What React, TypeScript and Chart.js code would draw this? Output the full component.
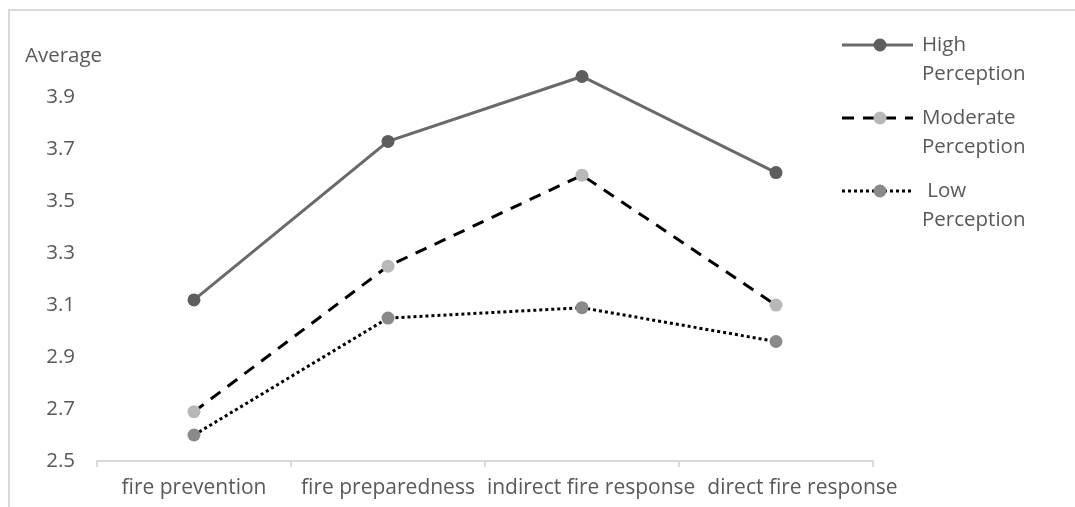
import React, { useEffect, useRef } from "react";
import { Chart, registerables } from "chart.js";

Chart.register(...registerables);

const categories = ["fire prevention", "fire preparedness", "indirect fire response", "direct fire response"];
const highPerception = [3.12, 3.73, 3.98, 3.61];
const moderatePerception = [2.69, 3.25, 3.6, 3.1];
const lowPerception = [2.6, 3.05, 3.09, 2.96];
const seriesLabels = [
  ["High", "Perception"],
  ["Moderate", "Perception"],
  [" Low", "Perception"],
];
const yMin = 2.5;
const yMax = 4.1;
const yStep = 0.2;
const yAxisTitle = "Average";

const FONT = "'Open Sans', Lato, sans-serif";
const FONT_SIZE = 20.5;
const X_FONT_SIZE = 21;
const TEXT = "#595959";
const AXIS = "#d9d9d9";

const extrasPlugin = {
  id: "extras",
  afterDraw(chart: any) {
    const ctx = chart.ctx;
    const area = chart.chartArea;
    ctx.save();
    ctx.font = `${FONT_SIZE}px ${FONT}`;
    ctx.fillStyle = TEXT;
    ctx.textBaseline = "middle";
    ctx.textAlign = "left";
    // axis title in place of the top tick
    ctx.fillText(yAxisTitle, 15, area.top + 11);

    // category labels, pushed right when they would overlap (as the original does)
    const xs = chart.scales.x;
    ctx.font = `${X_FONT_SIZE}px ${FONT}`;
    let prevRight = -Infinity;
    categories.forEach((c, i) => {
      const w = ctx.measureText(c).width;
      let left = xs.getPixelForValue(i) - w / 2;
      if (left < prevRight + 12) left = prevRight + 12;
      ctx.fillText(c, left, xs.top + 27);
      prevRight = left + w;
    });

    // custom legend
    ctx.font = `${FONT_SIZE}px ${FONT}`;
    chart.data.datasets.forEach((ds: any, i: number) => {
      const y = 34 + i * 73;
      const x0 = area.right - 31;
      const x1 = area.right + 40;
      const mx = area.right + 7;
      ctx.save();
      ctx.strokeStyle = ds.borderColor;
      ctx.lineWidth = ds.borderWidth;
      ctx.setLineDash(ds.borderDash || []);
      ctx.beginPath();
      ctx.moveTo(x0, y);
      ctx.lineTo(x1, y);
      ctx.stroke();
      ctx.setLineDash([]);
      ctx.fillStyle = ds.pointBackgroundColor;
      ctx.beginPath();
      ctx.arc(mx, y, ds.pointRadius, 0, Math.PI * 2);
      ctx.fill();
      ctx.restore();
      ctx.fillStyle = TEXT;
      const lines = seriesLabels[i];
      lines.forEach((t, j) => {
        ctx.fillText(t, area.right + 49, y + j * 29.5);
      });
    });
    ctx.restore();
  },
};

export default function App() {
  const canvasRef = useRef<HTMLCanvasElement | null>(null);

  useEffect(() => {
    if (!canvasRef.current) return;
    const chart = new Chart(canvasRef.current, {
      type: "line",
      data: {
        labels: categories,
        datasets: [
          {
            label: seriesLabels[0].join(" "),
            data: highPerception,
            borderColor: "#6a6a6a",
            borderWidth: 3,
            pointBackgroundColor: "#5e5e5e",
            pointBorderWidth: 0,
            pointRadius: 6.5,
            borderDash: [],
          },
          {
            label: seriesLabels[1].join(" "),
            data: moderatePerception,
            borderColor: "#000000",
            borderWidth: 3,
            borderDash: [12, 9],
            pointBackgroundColor: "#b8b8b8",
            pointBorderWidth: 0,
            pointRadius: 6.5,
          },
          {
            label: seriesLabels[2].join(" "),
            data: lowPerception,
            borderColor: "#000000",
            borderWidth: 3,
            borderDash: [3, 3],
            pointBackgroundColor: "#8a8a8a",
            pointBorderWidth: 0,
            pointRadius: 6.5,
          },
        ],
      },
      options: {
        animation: false,
        responsive: true,
        maintainAspectRatio: false,
        devicePixelRatio: 1,
        layout: { padding: { top: 34, right: 202, left: 0, bottom: 0 } },
        plugins: {
          legend: { display: false },
          tooltip: { enabled: false },
        },
        scales: {
          x: {
            offset: true,
            afterFit: (scale: any) => {
              scale.height = 46;
            },
            grid: {
              offset: true,
              drawOnChartArea: false,
              drawTicks: true,
              tickLength: 6,
              color: AXIS,
              lineWidth: 2,
            },
            border: { display: true, color: AXIS, width: 2 },
            ticks: { display: false, autoSkip: false },
          },
          y: {
            min: yMin,
            max: yMax,
            afterFit: (scale: any) => {
              scale.width = 87;
            },
            grid: { display: false, drawTicks: false },
            border: { display: false },
            ticks: {
              stepSize: yStep,
              color: TEXT,
              font: { family: FONT, size: FONT_SIZE },
              padding: 22,
              callback: (v: any) => (Number(v) > yMax - yStep / 2 ? "" : Number(v).toFixed(1)),
            },
          },
        },
      },
      plugins: [extrasPlugin],
    });
    return () => chart.destroy();
  }, []);

  return (
    <div
      style={{
        position: "fixed",
        left: 8,
        top: 9,
        right: 0,
        bottom: 0,
        borderLeft: `2px solid ${AXIS}`,
        borderTop: `2px solid ${AXIS}`,
        background: "#fff",
      }}
    >
      <div style={{ position: "relative", width: "100%", height: "100%" }}>
        <canvas ref={canvasRef} />
      </div>
    </div>
  );
}
